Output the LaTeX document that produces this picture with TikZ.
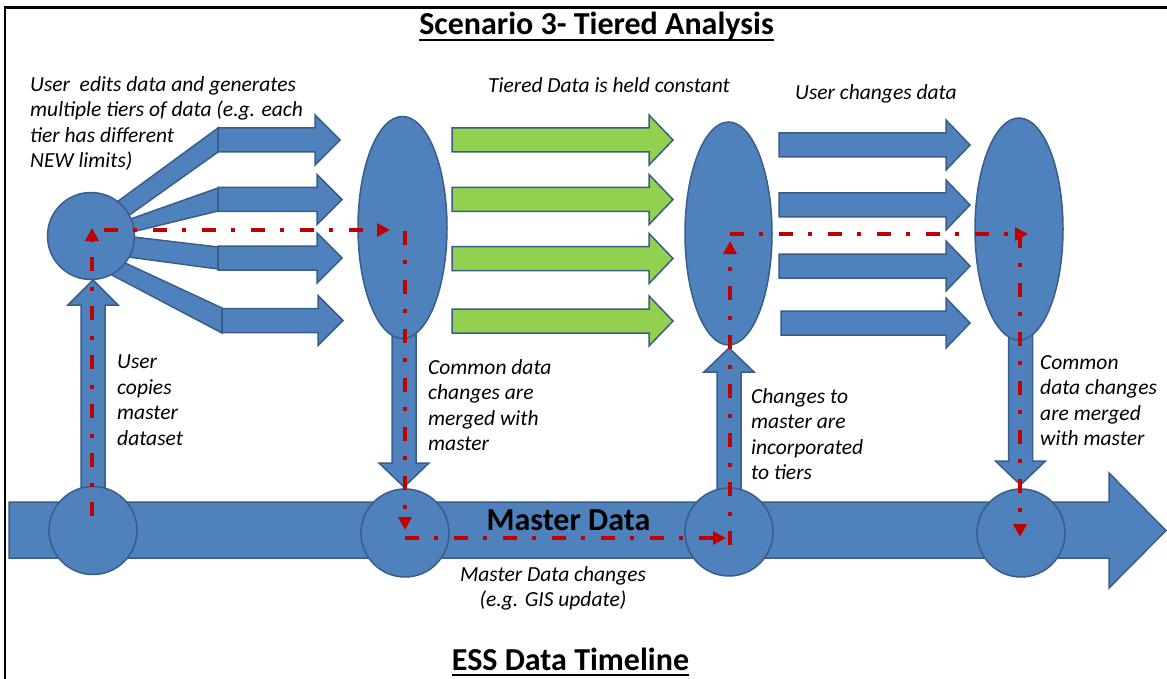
\documentclass[tikz,border=0pt]{standalone}
\usepackage{fontspec}
\setmainfont{Carlito}
\usetikzlibrary{arrows.meta,shapes.geometric}
\definecolor{fillblue}{HTML}{4F81BD}
\definecolor{edgeblue}{HTML}{385D8A}
\definecolor{fillgreen}{HTML}{92D050}
\definecolor{redline}{HTML}{C00000}
\newcommand{\hblock}[5]{\path[#5] (#1,#4-12) -- (#2,#4-12) -- (#2,#4-25) -- (#3,#4) -- (#2,#4+25) -- (#2,#4+12) -- (#1,#4+12) -- cycle;}
\newcommand{\vblock}[5]{\path[#5] (#1-12,#2) -- (#1-12,#3) -- (#1-25,#3) -- (#1,#4) -- (#1+25,#3) -- (#1+12,#3) -- (#1+12,#2) -- cycle;}
\tikzset{
  shapeblue/.style={fill=fillblue, draw=edgeblue, line width=1.5pt},
  shapegreen/.style={fill=fillgreen, draw=edgeblue, line width=1.5pt},
  flow/.style={draw=redline, line width=4.6pt, dash pattern=on 14pt off 15pt on 4pt off 16pt, -{Triangle[length=13pt,width=13pt]}},
  lbl/.style={font=\fontsize{21.5}{25.5}\selectfont\itshape, align=left, inner sep=0pt, anchor=north west, execute at begin node=\strut},
  heading/.style={font=\fontsize{32}{38}\selectfont\bfseries, inner sep=0pt, anchor=base},
  bubble/.style={circle, shapeblue, inner sep=0pt, minimum size=88pt},
  tall/.style={ellipse, shapeblue, inner sep=0pt, minimum width=89pt, minimum height=222pt}
}
\begin{document}
\begin{tikzpicture}[x=1pt,y=-1pt]
\useasboundingbox (0,0) rectangle (1167,679);
% frame
\draw[line width=2.2pt] (5,690) -- (5,7.5) -- (1175,7.5);

% master data bar
\path[shapeblue] (9,502) -- (1109,502) -- (1109,473) -- (1166,530.5) -- (1109,588) -- (1109,558) -- (9,558) -- cycle;

% vertical block arrows
\vblock{93}{490}{305}{280}{shapeblue}
\vblock{404}{320}{463}{487}{shapeblue}
\vblock{729}{490}{372}{348}{shapeblue}
\vblock{1020.5}{320}{461}{485}{shapeblue}

% fan arrows (diagonal parts)
\path[shapeblue] (91,221) -- (218,128) -- (218,152) -- (100,236) -- cycle;
\path[shapeblue] (91,233) -- (218,188) -- (218,211) -- (95,241) -- cycle;
\path[shapeblue] (91,232) -- (218,247) -- (218,269) -- (91,252) -- cycle;
\path[shapeblue] (95,249) -- (222,308) -- (222,333) -- (91,264) -- cycle;
% fan arrows (straight parts)
\hblock{218}{315}{340}{140}{shapeblue}
\hblock{218}{317}{342}{199.5}{shapeblue}
\hblock{218}{317}{342}{258}{shapeblue}
\hblock{222}{318}{343}{320.5}{shapeblue}

% green arrows
\hblock{452}{649}{673}{140}{shapegreen}
\hblock{452}{649}{673}{199.5}{shapegreen}
\hblock{452}{649}{673}{258.5}{shapegreen}
\hblock{452}{649}{673}{321}{shapegreen}

% blue arrows right
\hblock{779}{946}{970}{145}{shapeblue}
\hblock{779}{946}{970}{205}{shapeblue}
\hblock{779}{946}{970}{266}{shapeblue}
\hblock{781}{946}{970}{323}{shapeblue}

% circles and ellipses
\node[bubble, minimum size=87pt] (src) at (91,236) {};
\node[tall] (e1) at (402.5,227.5) {};
\node[tall, minimum width=87pt, minimum height=223pt] (e2) at (728.5,233.5) {};
\node[tall, minimum width=88pt] (e3) at (1019,229) {};
\node[bubble] (m1) at (93,530.5) {};
\node[bubble] (m2) at (405,533) {};
\node[bubble] (m3) at (729,532) {};
\node[bubble] (m4) at (1021,533) {};

% red flow coordinates
\coordinate (p1) at (92,516);
\coordinate (p2) at (92,228);
\coordinate (p3) at (104,230);
\coordinate (p4) at (390,230);
\coordinate (p5) at (405,231);
\coordinate (p6) at (405,530);
\coordinate (p7) at (405,538);
\coordinate (p8) at (726,538);
\coordinate (p9) at (730,545);
\coordinate (p10) at (730,241);
\coordinate (p11) at (730,234);
\coordinate (p12) at (1028,234);
\coordinate (p13) at (1020,234);
\coordinate (p14) at (1020,537);
\draw[flow] (p1) -- (p2);
\draw[flow] (p3) -- (p4);
\draw[flow] (p5) -- (p6);
\draw[flow] (p7) -- (p8);
\draw[flow] (p9) -- (p10);
\draw[flow] (p11) -- (p12);
\draw[flow] (p13) -- (p14);

% headings
\node[heading] (ttl) at (596.5,35) {Scenario 3- Tiered Analysis};
\draw[line width=2pt] ([yshift=-5pt]ttl.base west) -- ([yshift=-5pt]ttl.base east);
\node[heading] (ess) at (570.5,670) {ESS Data Timeline};
\draw[line width=2pt] ([yshift=-5pt]ess.base west) -- ([yshift=-5pt]ess.base east);
\node[heading] (md) at (568.5,530) {Master Data};

% labels
\node[lbl] (t1) at (30,76) {User~ edits data and generates\\multiple tiers of data (e.g. each\\tier has different\\NEW limits)};
\node[lbl] (t2) at (488,74) {Tiered Data is held constant};
\node[lbl] (t3) at (795,81) {User changes data};
\node[lbl] (t4) at (117,355) {User\\copies\\master\\dataset};
\node[lbl] (t5) at (428,359) {Common data\\changes are\\merged with\\master};
\node[lbl] (t6) at (751,388) {Changes to\\master are\\incorporated\\to tiers};
\node[lbl] (t7) at (1040,355) {Common\\data changes\\are merged\\with master};
\node[lbl, align=center, anchor=north] (t8) at (553,566) {Master Data changes\\(e.g. GIS update)};
\end{tikzpicture}
\end{document}
